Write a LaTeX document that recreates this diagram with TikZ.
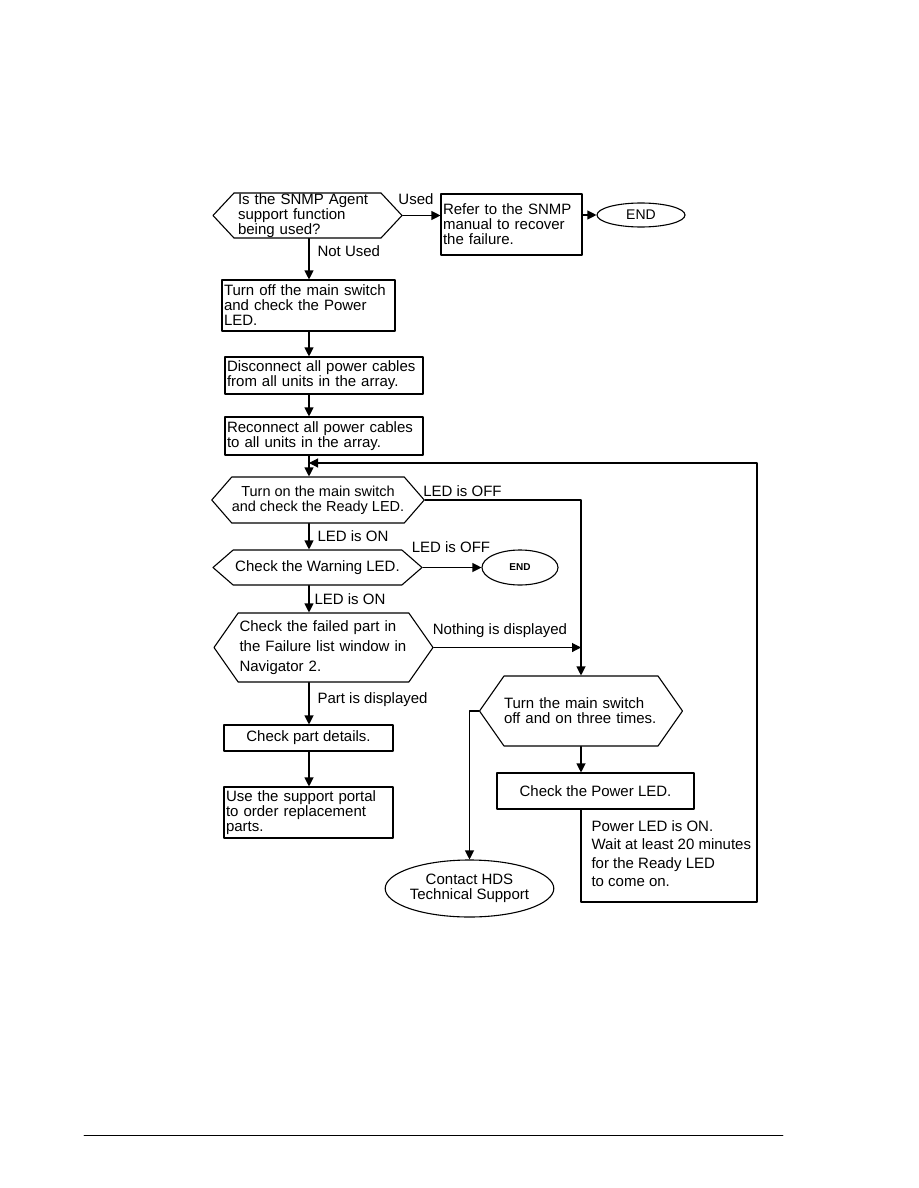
\documentclass[tikz,border=0pt]{standalone}
\usepackage{fontspec}
\setmainfont{Liberation Sans}
\usetikzlibrary{arrows.meta,shapes.geometric,shapes.symbols}

\begin{document}
\begin{tikzpicture}[x=1pt,y=-1pt,line cap=round,line join=round,line width=1.1pt,
  >={Triangle[length=9pt,width=9pt]},
  every node/.style={font=\fontsize{15}{15}\selectfont},
  stepbox/.style={draw,rectangle,inner xsep=2pt,inner ysep=0pt,align=left},
  askbox/.style={draw,signal,signal to=west and east,inner sep=0pt,align=left},
  endoval/.style={draw,ellipse,inner sep=0pt,align=center},
  tag/.style={inner sep=0pt}]
  \useasboundingbox (0,0) rectangle (918,1188);
  \coordinate (spine) at (309,0);

  \node[askbox,minimum width=189pt,minimum height=45pt,signal pointer angle=94,
    text width=139pt,font=\fontsize{15}{13.5}\selectfont] (snmp) at (307.5,215.5)
    {Is the SNMP Agent\\support function\\being used?};
  \node[stepbox,minimum width=141pt,minimum height=61pt,text width=137pt] (refer) at (511.5,224.5)
    {Refer to the SNMP\\manual to recover\\the failure.};
  \node[endoval,minimum width=88pt,minimum height=24pt,font=\fontsize{14}{14}\selectfont] (endA) at (641,215) {END};

  \node[stepbox,minimum width=173pt,minimum height=51pt,text width=169pt] (turnoff) at (308.5,305.5)
    {Turn off the main switch\\and check the Power\\LED.};
  \node[stepbox,minimum width=198pt,minimum height=37pt,text width=194pt] (unplug) at (324,375.5)
    {Disconnect all power cables\\from all units in the array.};
  \node[stepbox,minimum width=198pt,minimum height=38pt,text width=194pt] (replug) at (324,436)
    {Reconnect all power cables\\to all units in the array.};

  \node[askbox,align=center,minimum width=210pt,minimum height=46pt,signal pointer angle=98,
    font=\fontsize{14.5}{15}\selectfont] (ready) at (318,500)
    {Turn on the main switch\\and check the Ready LED.};
  \node[askbox,align=center,minimum width=209pt,minimum height=35pt,signal pointer angle=82] (warn) at (317.5,567.5)
    {Check the Warning LED.};
  \node[endoval,minimum width=76pt,minimum height=35pt,font=\fontsize{10}{10}\bfseries] (endB) at (520,567.5) {END};
  \node[askbox,minimum width=219pt,minimum height=69pt,signal pointer angle=110,
    text width=168pt,font=\fontsize{15}{20}\selectfont] (failed) at (323.5,647.5)
    {Check the failed part in\\the Failure list window in\\Navigator 2.};

  \node[stepbox,align=center,minimum width=169pt,minimum height=26pt] (details) at (308.5,738)
    {Check part details.};
  \node[stepbox,minimum width=169pt,minimum height=51pt,text width=165pt] (portal) at (308.5,812.5)
    {Use the support portal\\to order replacement\\parts.};

  \node[askbox,minimum width=188pt,minimum height=70pt,signal pointer angle=110,text width=154pt] (cycle) at (581,711)
    {Turn the main switch\\off and on three times.};
  \node[stepbox,align=center,minimum width=197pt,minimum height=36pt] (power) at (595.5,791)
    {Check the Power LED.};
  \node[endoval,minimum width=167pt,minimum height=57pt] (contact) at (469.5,888.5)
    {Contact HDS\\Technical Support};
  \node[tag,anchor=north west,align=left,font=\fontsize{15}{18.3}\selectfont] (wait) at (591,820)
    {Power LED is ON.\\Wait at least 20 minutes\\for the Ready LED\\to come on.};

  \coordinate (loopse) at (757,902);
  \coordinate (loopne) at (757,463);
  \coordinate (merge) at (spine |- loopne);

  \draw[->] (snmp.east) -- node[tag,above=10pt,pos=.35] {Used} (refer.west |- snmp.east);
  \draw[->] (refer.east |- endA.west) -- (endA.west);
  \draw[->] (snmp.south -| spine) -- node[tag,right=8pt,pos=.3] {Not Used} (turnoff.north -| spine);
  \draw[->] (turnoff.south -| spine) -- (unplug.north -| spine);
  \draw[->] (unplug.south -| spine) -- (replug.north -| spine);
  \draw[->] (replug.south -| spine) -- (ready.north -| spine);
  \draw[->] (ready.east) -| node[tag,above=3pt,pos=.12] {LED is OFF} (cycle.north);
  \draw[->] (ready.south -| spine) -- node[tag,right=8pt,pos=.5] {LED is ON} (warn.north -| spine);
  \draw[->] (warn.east) -- node[tag,above=14pt,pos=.48] {LED is OFF} (endB.west);
  \draw[->] (warn.south -| spine) -- node[tag,right=5pt,pos=.5] {LED is ON} (failed.north -| spine);
  \draw[->] (failed.east) -- node[tag,above=9pt,pos=.45] {Nothing is displayed} (failed.east -| cycle.north);
  \draw[->] (failed.south -| spine) -- node[tag,right=8pt,pos=.4] {Part is displayed} (details.north -| spine);
  \draw[->] (details.south -| spine) -- (portal.north -| spine);
  \draw[->] (cycle.west) -| (contact.north);
  \draw[->] (cycle.south) -- (cycle.south |- power.north);
  \draw[->] (power.south -| cycle.south) |- (loopse) -- (loopne) -- (merge);

  \draw[line width=.8pt] (84,1135) -- (783,1135);
\end{tikzpicture}
\end{document}
